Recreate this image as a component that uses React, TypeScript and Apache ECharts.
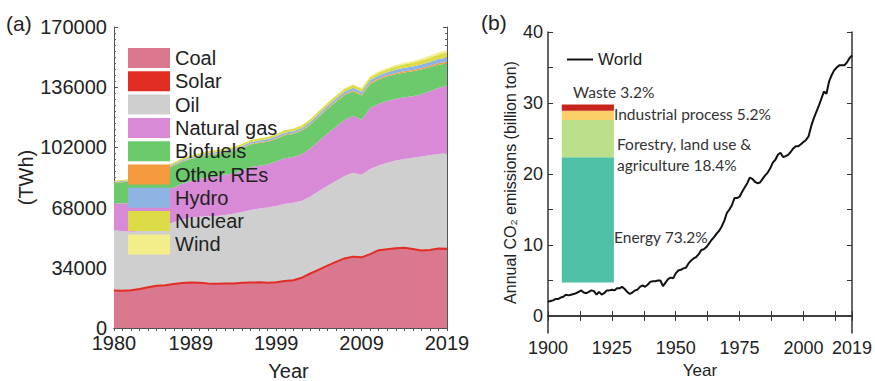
import React, { useEffect, useRef } from 'react';
import * as echarts from 'echarts';

// ---------- Panel (a): primary energy consumption (TWh) ----------
const energyYears = Array.from({ length: 40 }, (_, i) => 1980 + i);
const energyXLabels = [1980, 1989, 1999, 2009, 2019];
const energyNames = ['Coal', 'Solar', 'Oil', 'Natural gas', 'Biofuels', 'Other REs', 'Hydro', 'Nuclear', 'Wind'];

const coal = [21200, 21000, 21300, 22000, 23000, 23800, 24100, 24900, 25400, 25700,
  25500, 25200, 25000, 25100, 25200, 25500, 25700, 25800, 25600, 25800,
  26600, 27000, 28400, 30800, 33000, 35200, 37300, 39300, 40300, 39900,
  41700, 43900, 44400, 44900, 45100, 44300, 43400, 43600, 44300, 44100];
const solar = [0, 0, 0, 0, 0, 0, 0, 0, 0, 0,
  0, 0, 0, 0, 0, 0, 0, 0, 0, 0,
  0, 0, 0, 0, 3, 4, 6, 8, 12, 20,
  33, 64, 100, 139, 198, 256, 330, 446, 578, 724];
const oil = [34200, 33700, 33000, 32700, 33100, 33300, 34200, 34800, 35900, 36700,
  37300, 37900, 38300, 38700, 39300, 40000, 40900, 41700, 42400, 43100,
  43600, 43700, 43500, 43400, 44400, 45100, 45700, 46500, 47400, 46700,
  48100, 47800, 48800, 49600, 50200, 51600, 53100, 53500, 53400, 53900];
const naturalGas = [15000, 15600, 16300, 17000, 18100, 18700, 18900, 19600, 20100, 20500,
  21300, 22000, 22300, 22700, 22800, 23400, 24300, 24200, 24400, 25100,
  25700, 25900, 26300, 27200, 28200, 29500, 30700, 31600, 32100, 31000,
  34400, 34800, 34900, 34800, 34800, 34800, 35200, 36100, 37300, 38300];
const biofuels = [11600, 12000, 12200, 12300, 12300, 12300, 12300, 12400, 12500, 12500,
  12500, 12500, 12600, 12600, 12600, 12600, 12700, 12800, 12800, 12800,
  12900, 13000, 13200, 13400, 13700, 13900, 14000, 14100, 13800, 13700,
  13500, 13700, 13800, 13900, 14000, 14000, 13900, 13600, 13100, 12400];
const otherREs = [250, 255, 260, 270, 280, 290, 300, 310, 320, 330,
  340, 345, 350, 360, 370, 380, 390, 400, 410, 420,
  430, 440, 450, 470, 490, 510, 530, 550, 570, 590,
  620, 650, 680, 710, 740, 770, 800, 830, 860, 900];
const hydro = [500, 520, 540, 560, 590, 610, 640, 670, 700, 730,
  760, 790, 820, 850, 880, 910, 950, 990, 1020, 1060,
  1100, 1130, 1170, 1210, 1260, 1310, 1360, 1410, 1470, 1500,
  1580, 1650, 1720, 1800, 1880, 1960, 2060, 2180, 2320, 2500];
const nuclear = [400, 450, 500, 560, 640, 720, 800, 850, 900, 950,
  1000, 1030, 1060, 1090, 1120, 1160, 1200, 1230, 1260, 1300,
  1340, 1380, 1420, 1460, 1500, 1540, 1580, 1620, 1650, 1680,
  1720, 1760, 1800, 1900, 2000, 2150, 2300, 2450, 2600, 2800];
const wind = [0, 0, 0, 0, 0, 0, 0, 0, 0, 0,
  0, 0, 0, 0, 10, 20, 30, 40, 50, 60,
  80, 100, 120, 150, 180, 220, 270, 330, 400, 470,
  540, 620, 700, 780, 860, 940, 1020, 1100, 1200, 1300];
const energyValues = [coal, solar, oil, naturalGas, biofuels, otherREs, hydro, nuclear, wind];

// ---------- Panel (b): world CO2 emissions (billion ton) ----------
const co2Years = Array.from({ length: 120 }, (_, i) => 1900 + i);
const co2XLabels = [1900, 1925, 1950, 1975, 2000, 2019];
const co2YLabels = [0, 10, 20, 30, 40];
const co2YTicks = [0, 5, 10, 15, 20, 25, 30, 35, 40];
const worldCO2 = [
  2.0, 2.1, 2.2, 2.4, 2.4, 2.6, 2.7, 3.0, 2.9, 3.0,
  3.1, 3.2, 3.4, 3.6, 3.3, 3.2, 3.4, 3.6, 3.5, 3.0,
  3.4, 3.0, 3.2, 3.6, 3.6, 3.7, 3.6, 3.9, 3.9, 4.1,
  3.8, 3.4, 3.1, 3.3, 3.6, 3.7, 4.1, 4.3, 4.1, 4.4,
  4.8, 4.9, 4.9, 5.0, 5.0, 4.2, 4.7, 5.2, 5.4, 5.3,
  6.0, 6.4, 6.5, 6.7, 6.8, 7.4, 7.8, 8.1, 8.3, 8.7,
  9.3, 9.4, 9.7, 10.2, 10.7, 11.1, 11.6, 12.0, 12.6, 13.4,
  14.5, 15.0, 15.6, 16.6, 16.6, 16.8, 17.5, 18.1, 18.7, 19.5,
  19.3, 18.9, 18.7, 18.8, 19.3, 19.8, 20.2, 20.8, 21.6, 22.0,
  22.7, 23.0, 22.4, 22.5, 22.7, 23.1, 23.6, 23.9, 23.9, 24.2,
  24.5, 24.8, 25.3, 26.7, 27.8, 28.7, 29.6, 30.6, 31.6, 31.3,
  33.0, 33.9, 34.6, 35.0, 35.3, 35.3, 35.3, 35.7, 36.3, 36.7];

// Inset stacked bar: shares of emissions by sector
const insetLabels = ['Energy 73.2%', 'Forestry, land use &', 'agriculture 18.4%', 'Industrial process 5.2%', 'Waste 3.2%'];
const insetBounds = [4.7, 22.35, 27.6, 28.9, 29.8]; // segment boundaries (billion ton)
const insetSpan = [1905.4, 1925.8]; // horizontal extent (year axis)

// ---------- styles ----------
const energyColors = ['#d9788f', '#e22d24', '#cfcfcf', '#d98ad7', '#6cc96c', '#f39a3e', '#8db4e2', '#dcdc48', '#f3ee8a'];
const insetColors = ['#4ec0a5', '#bcdf8c', '#fcd068', '#c8261c'];
const FONT = '"Liberation Sans", Arial, sans-serif';
const INSET_FONT = 'Lato, sans-serif';
const TXT = '#222';
const plain = (v: number) => String(v);

export default function App() {
  const ref = useRef<HTMLDivElement>(null);

  useEffect(() => {
    if (!ref.current) return;
    const chart = echarts.init(ref.current, undefined, { renderer: 'svg' });

    const frameA = { show: true, lineStyle: { color: '#555', width: 1 } };
    const frameB = { show: true, lineStyle: { color: '#333', width: 1.5 } };

    const energySeries = energyNames.map((name, i) => ({
      name,
      type: 'line',
      xAxisIndex: 0,
      yAxisIndex: 0,
      stack: 'energy',
      symbol: 'none',
      showSymbol: false,
      z: 2,
      data: energyValues[i],
      itemStyle: { color: energyColors[i] },
      lineStyle: name === 'Solar' ? { color: energyColors[i], width: 2 } : { width: 0, color: energyColors[i] },
      areaStyle: { color: energyColors[i], opacity: 1 },
    }));

    const yearCats = energyYears.map(String);
    const showYear = (_: number, val: string) => energyXLabels.includes(Number(val));

    const insetText = (text: string, x: number, y: number) => ({
      type: 'text', x, y,
      style: { text, fontSize: 15.5, fontFamily: INSET_FONT, fill: '#333', verticalAlign: 'middle', textVerticalAlign: 'middle' },
    });

    const option: any = {
      animation: false,
      backgroundColor: '#fff',
      textStyle: { fontFamily: FONT },
      grid: [
        { left: 114, top: 27, width: 333, height: 301, outerBoundsMode: 'none' },
        { left: 548, top: 32, width: 304, height: 301, outerBoundsMode: 'none' },
      ],
      legend: [
        {
          orient: 'vertical',
          left: 123,
          top: 43,
          itemWidth: 42,
          itemHeight: 20,
          itemGap: 3.3,
          icon: 'rect',
          selectedMode: false,
          textStyle: { fontSize: 20, color: TXT, fontFamily: FONT },
          data: energyNames.map((n, i) => ({ name: n, itemStyle: { color: energyColors[i], borderWidth: 0 } })),
        },
        {
          left: 562,
          top: 46,
          itemWidth: 26,
          itemHeight: 2,
          icon: 'rect',
          selectedMode: false,
          textStyle: { fontSize: 17, color: TXT, fontFamily: FONT },
          data: [{ name: 'World', itemStyle: { color: '#111', borderWidth: 0 } }],
        },
      ],
      xAxis: [
        {
          type: 'category', gridIndex: 0, position: 'bottom', data: yearCats, boundaryGap: false,
          axisLine: frameA,
          axisTick: { show: true, inside: true, length: 3, interval: 0, lineStyle: { color: '#555' } },
          axisLabel: { interval: showYear, fontSize: 20, color: TXT, margin: 5, fontFamily: FONT },
          splitLine: { show: false },
          name: 'Year', nameLocation: 'middle', nameGap: 33,
          nameTextStyle: { fontSize: 20, color: TXT, fontFamily: FONT, padding: [0, 0, 0, 16] },
        },
        {
          type: 'category', gridIndex: 0, position: 'top', data: yearCats, boundaryGap: false,
          axisLine: frameA,
          axisTick: { show: true, inside: true, length: 3, interval: 0, lineStyle: { color: '#555' } },
          axisLabel: { show: false },
          splitLine: { show: false },
        },
        {
          type: 'value', gridIndex: 1, position: 'bottom', min: 1900, max: 2019, interval: 12.5,
          axisLine: frameB,
          axisTick: { show: true, inside: true, length: 5, lineStyle: { color: '#333' } },
          axisLabel: { customValues: co2XLabels, formatter: plain, fontSize: 18, color: TXT, margin: 6, fontFamily: FONT },
          splitLine: { show: false },
          name: 'Year', nameLocation: 'middle', nameGap: 25,
          nameTextStyle: { fontSize: 17, color: TXT, fontFamily: FONT },
        },
        {
          type: 'value', gridIndex: 1, position: 'top', min: 1900, max: 2019, interval: 12.5,
          axisLine: frameB,
          axisTick: { show: true, inside: true, length: 5, lineStyle: { color: '#333' } },
          axisLabel: { show: false },
          splitLine: { show: false },
        },
      ],
      yAxis: [
        {
          type: 'value', gridIndex: 0, position: 'left', min: 0, max: 170000, interval: 34000,
          axisLine: frameA,
          axisTick: { show: true, inside: true, length: 4, lineStyle: { color: '#555' } },
          minorTick: { show: true, splitNumber: 10, length: 2, lineStyle: { color: '#666' } },
          axisLabel: { formatter: plain, fontSize: 20, color: TXT, margin: 7, fontFamily: FONT },
          splitLine: { show: false },
          name: '(TWh)', nameLocation: 'middle', nameGap: 78,
          nameTextStyle: { fontSize: 20, color: TXT, fontFamily: FONT },
        },
        {
          type: 'value', gridIndex: 0, position: 'right', min: 0, max: 170000, interval: 34000,
          axisLine: frameA,
          axisTick: { show: true, inside: true, length: 4, lineStyle: { color: '#555' } },
          minorTick: { show: true, splitNumber: 10, length: 2, lineStyle: { color: '#666' } },
          axisLabel: { show: false },
          splitLine: { show: false },
        },
        {
          type: 'value', gridIndex: 1, position: 'left', min: -2.4, max: 40,
          axisLine: frameB,
          axisTick: { show: true, inside: true, length: 5, customValues: co2YTicks, lineStyle: { color: '#333' } },
          axisLabel: { customValues: co2YLabels, formatter: plain, fontSize: 18, color: TXT, margin: 5, fontFamily: FONT },
          splitLine: { show: false },
          name: 'Annual CO₂ emissions (billion ton)', nameLocation: 'middle', nameGap: 30,
          nameTextStyle: { fontSize: 16, color: TXT, fontFamily: FONT },
        },
        {
          type: 'value', gridIndex: 1, position: 'right', min: -2.4, max: 40,
          axisLine: frameB,
          axisTick: { show: true, inside: true, length: 5, customValues: co2YTicks, lineStyle: { color: '#333' } },
          axisLabel: { show: false },
          splitLine: { show: false },
        },
      ],
      series: [
        ...energySeries,
        {
          name: 'Inset',
          type: 'custom',
          xAxisIndex: 2,
          yAxisIndex: 2,
          encode: { x: [0, 1], y: [2, 3] },
          data: insetColors.map((_, i) => [insetSpan[0], insetSpan[1], insetBounds[i], insetBounds[i + 1]]),
          renderItem: (params: any, api: any) => {
            const p0 = api.coord([api.value(0), api.value(3)]);
            const p1 = api.coord([api.value(1), api.value(2)]);
            return {
              type: 'rect',
              shape: { x: p0[0], y: p0[1], width: p1[0] - p0[0], height: p1[1] - p0[1] },
              style: { fill: insetColors[params.dataIndex] },
            };
          },
          z: 1,
        },
        {
          name: 'World',
          type: 'line',
          xAxisIndex: 2,
          yAxisIndex: 2,
          symbol: 'none',
          showSymbol: false,
          data: co2Years.map((y, k) => [y, worldCO2[k]]),
          lineStyle: { color: '#111', width: 2 },
          itemStyle: { color: '#111' },
          z: 3,
        },
      ],
      graphic: [
        { type: 'text', x: 6, y: 23, style: { text: '(a)', fontSize: 21, fontFamily: FONT, fill: TXT, verticalAlign: 'middle', textVerticalAlign: 'middle' } },
        { type: 'text', x: 481, y: 22, style: { text: '(b)', fontSize: 21, fontFamily: FONT, fill: TXT, verticalAlign: 'middle', textVerticalAlign: 'middle' } },
        insetText(insetLabels[0], 614, 237),
        insetText(insetLabels[1], 617, 143.5),
        insetText(insetLabels[2], 617, 164.5),
        insetText(insetLabels[3], 614, 114),
        insetText(insetLabels[4], 573, 92),
      ],
    };

    chart.setOption(option);
    return () => chart.dispose();
  }, []);

  return <div ref={ref} style={{ position: 'fixed', left: 0, top: 0, width: 875, height: 381, background: '#fff' }} />;
}
